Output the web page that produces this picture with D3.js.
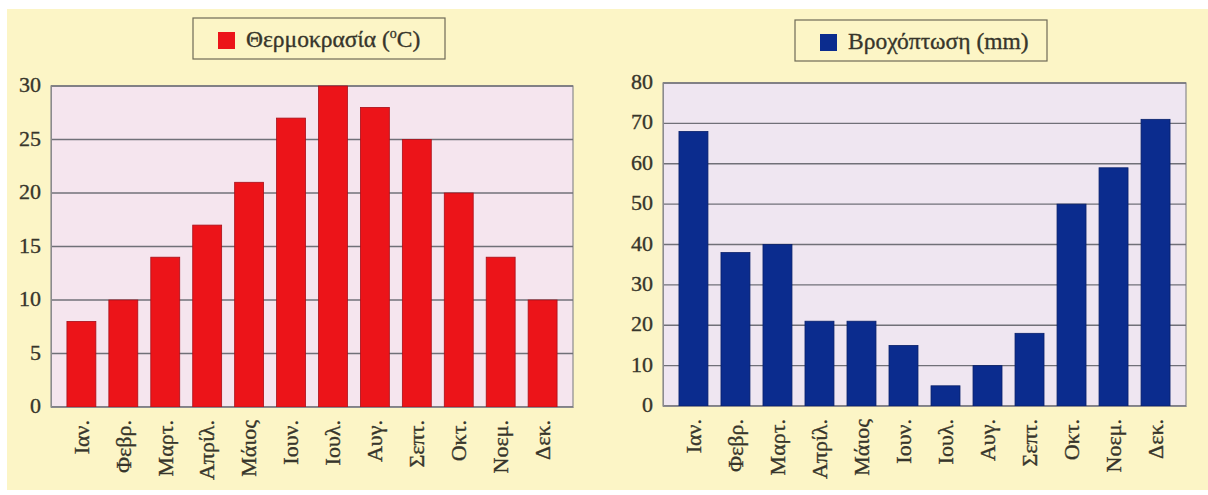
<!DOCTYPE html>
<html><head><meta charset="utf-8">
<script src="https://cdn.jsdelivr.net/npm/d3@7"></script>
<style>html,body{margin:0;padding:0;background:#fff}svg{display:block}
text{font-family:"Liberation Serif","Times New Roman",serif;stroke:#37352b;stroke-width:0.35px}</style>
</head><body>
<script>
const months = ["Ιαν.","Φεβρ.","Μαρτ.","Απρίλ.","Μάιος","Ιουν.","Ιουλ.","Αυγ.","Σεπτ.","Οκτ.","Νοεμ.","Δεκ."];
const temperature = [8,10,14,17,21,27,30,28,25,20,14,10];
const rainfall = [68,38,40,21,21,15,5,10,18,50,59,71];
const tempTicks = [0,5,10,15,20,25,30];
const rainTicks = [0,10,20,30,40,50,60,70,80];
const tempLegend = "Θερμοκρασία (";
const rainLegend = "Βροχόπτωση (mm)";

const W = 1208, H = 495;
const TXT = "#37352b";
const svg = d3.select("body").append("svg").attr("width", W).attr("height", H);
svg.append("rect").attr("x",7).attr("y",9).attr("width",W-7).attr("height",481).attr("fill","#fcf5c6");

function chart(opts){
  const g = svg.append("g");
  const x = d3.scaleBand().domain(months).range([opts.x0, opts.x1]).paddingInner(0.31).paddingOuter(0.38);
  const y = d3.scaleLinear().domain([0, opts.max]).range([opts.y0, opts.y1]);
  g.append("rect").attr("x",opts.x0).attr("y",opts.y1).attr("width",opts.x1-opts.x0).attr("height",opts.y0-opts.y1)
    .attr("fill",opts.plotBg).attr("stroke","#8a8a8e").attr("stroke-width",1.2);
  g.append("g").selectAll("line").data(opts.ticks).join("line")
    .attr("x1",opts.x0).attr("x2",opts.x1).attr("y1",d=>y(d)).attr("y2",d=>y(d))
    .attr("stroke","#707078").attr("stroke-width",1.4);
  const ya = g.append("g").attr("transform",`translate(${opts.x0},0)`)
    .call(d3.axisLeft(y).tickValues(opts.ticks).tickSize(0).tickPadding(10));
  ya.attr("font-family",null);
  ya.select(".domain").attr("stroke","#8a8a8e");
  ya.selectAll("text").attr("font-size",22).attr("fill",TXT).attr("dy","0.25em");
  g.append("g").selectAll("rect").data(opts.values).join("rect")
    .attr("x",(d,i)=>x(months[i])).attr("width",x.bandwidth())
    .attr("y",d=>y(d)).attr("height",d=>y(0)-y(d))
    .attr("fill",opts.color).attr("stroke",opts.stroke).attr("stroke-width",0.8);
  const xa = g.append("g").attr("transform",`translate(0,${opts.y0})`)
    .call(d3.axisBottom(x).tickSize(0));
  xa.attr("font-family",null);
  xa.select(".domain").attr("stroke","#8a8a8e");
  xa.selectAll("text").attr("font-size",22).attr("fill",TXT)
    .attr("transform","rotate(-90)").attr("text-anchor","end").attr("x",-13).attr("y",0).attr("dy","0.33em");
  const lg = g.append("g");
  lg.append("rect").attr("x",opts.lx).attr("y",opts.ly).attr("width",opts.lw).attr("height",41)
    .attr("fill","none").attr("stroke","#6e6a58").attr("stroke-width",1.2);
  lg.append("rect").attr("x",opts.lx+25).attr("y",opts.ly+14).attr("width",17).attr("height",17).attr("fill",opts.color);
  const t = lg.append("text").attr("x",opts.lx+53).attr("y",opts.ly+29).attr("font-size",23.5).attr("fill",TXT);
  opts.legend(t);
}

chart({x0:51,x1:573,y0:407,y1:86,max:30,ticks:tempTicks,values:temperature,color:"#ec1419",stroke:"#a8101a",
  plotBg:"#f5e5ee",lx:193,ly:18,lw:252,
  legend:t=>{t.append("tspan").text(tempLegend);t.append("tspan").attr("font-size",14).attr("dy","-9").text("o");t.append("tspan").attr("dy","9").text("C)");}});
chart({x0:663,x1:1186,y0:406,y1:83,max:80,ticks:rainTicks,values:rainfall,color:"#0b2c8e",stroke:"#08206a",
  plotBg:"#efe6f1",lx:795,ly:20,lw:252,
  legend:t=>{t.text(rainLegend);}});
</script>
</body></html>
